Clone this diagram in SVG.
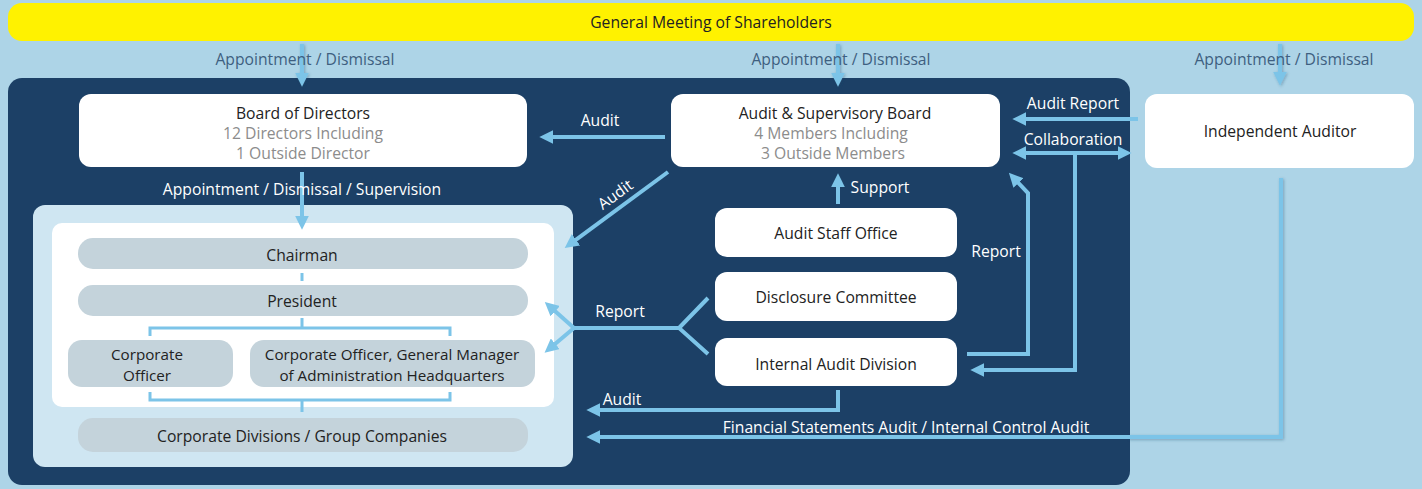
<svg xmlns="http://www.w3.org/2000/svg" width="1422" height="489" viewBox="0 0 1422 489">
  <style>
    text { font-family: "Open Sans", "Noto Sans", "Liberation Sans", sans-serif; font-size: 15.7px; text-anchor: middle; dominant-baseline: central; }
    .dark { fill: #222222; }
    .sub { fill: #8C8C8C; }
    .lbl { fill: #3E5F80; }
    .wlbl { fill: #FFFFFF; }
    .two { font-size: 15.2px; }
    .box { fill: #FFFFFF; }
    .bar { fill: #C4D3DB; }
    .ln { fill: none; stroke: #7CC4E8; stroke-width: 4; }
    .thin { fill: none; stroke: #7CC4E8; stroke-width: 3; }
    .arr { marker-end: url(#head); }
  </style>
  <defs>
    <marker id="head" markerUnits="userSpaceOnUse" markerWidth="14" markerHeight="14" viewBox="0 0 12 12" refX="2" refY="6" orient="auto-start-reverse">
      <path d="M0,0 L12,6 L0,12 z" fill="#7CC4E8"/>
    </marker>
    <filter id="shade" x="-50%" y="-20%" width="200%" height="140%">
      <feDropShadow dx="1" dy="1" stdDeviation="1.5" flood-color="#1C4066" flood-opacity="0.35"/>
    </filter>
  </defs>

  <!-- page -->
  <rect x="0" y="0" width="1422" height="489" fill="#ADD4E7"/>
  <rect x="8" y="78" width="1122" height="407" rx="14" fill="#1C4066"/>

  <!-- shareholders -->
  <g id="shareholders">
    <rect x="8" y="3" width="1406" height="38" rx="14" fill="#FFF200"/>
    <text x="711" y="22" class="dark">General Meeting of Shareholders</text>
  </g>

  <!-- board of directors -->
  <g id="board">
    <rect x="79" y="94" width="448" height="73" rx="12" class="box"/>
    <text x="303" y="113" class="dark">Board of Directors</text>
    <text x="303" y="133" class="sub">12 Directors Including<tspan x="303" dy="20">1 Outside Director</tspan></text>
  </g>

  <!-- audit & supervisory board -->
  <g id="audit-board">
    <rect x="671" y="94" width="329" height="73" rx="12" class="box"/>
    <text x="835" y="113" class="dark">Audit &amp; Supervisory Board</text>
    <text x="831" y="133" class="sub">4 Members Including<tspan x="833" dy="20">3 Outside Members</tspan></text>
  </g>

  <!-- independent auditor -->
  <g id="auditor">
    <rect x="1145" y="94" width="269" height="74" rx="12" class="box"/>
    <text x="1280" y="131" class="dark">Independent Auditor</text>
  </g>

  <!-- executive organisation -->
  <g id="management">
    <rect x="33" y="205" width="540" height="262" rx="12" fill="#CFE6F2"/>
    <rect x="52" y="223" width="502" height="184" rx="10" fill="#FFFFFF"/>
  </g>
  <g id="chairman">
    <rect x="78" y="238" width="450" height="31" rx="15" class="bar"/>
    <text x="302" y="255" class="dark">Chairman</text>
  </g>
  <g id="president">
    <rect x="78" y="285" width="450" height="31" rx="15" class="bar"/>
    <text x="302" y="301" class="dark">President</text>
  </g>
  <g id="corporate-officer">
    <rect x="68" y="340" width="165" height="47" rx="14" class="bar"/>
    <text x="147" y="354" class="dark two">Corporate<tspan x="147" dy="20.8">Officer</tspan></text>
  </g>
  <g id="general-manager">
    <rect x="250" y="340" width="285" height="47" rx="14" class="bar"/>
    <text x="392" y="354" class="dark two">Corporate Officer, General Manager<tspan x="392" dy="20.8">of Administration Headquarters</tspan></text>
  </g>
  <g id="divisions">
    <rect x="78" y="418" width="450" height="34" rx="15" class="bar"/>
    <text x="302" y="436" class="dark">Corporate Divisions / Group Companies</text>
  </g>

  <!-- audit side units -->
  <g id="audit-staff">
    <rect x="715" y="208" width="242" height="49" rx="12" class="box"/>
    <text x="836" y="233" class="dark">Audit Staff Office</text>
  </g>
  <g id="disclosure">
    <rect x="715" y="272" width="242" height="49" rx="12" class="box"/>
    <text x="836" y="297" class="dark">Disclosure Committee</text>
  </g>
  <g id="internal-audit">
    <rect x="715" y="338" width="242" height="48" rx="12" class="box"/>
    <text x="836" y="364" class="dark">Internal Audit Division</text>
  </g>

  <!-- connectors -->
  <g id="connectors">
    <!-- appointment from the general meeting -->
    <g filter="url(#shade)">
      <path class="ln arr" d="M302,44 V75"/>
      <path class="ln arr" d="M838,44 V75"/>
      <path class="ln arr" d="M1280,44 V74"/>
      <path class="ln" d="M1281,178 V437 H1128"/>
    </g>
    <text x="305" y="59" class="lbl">Appointment / Dismissal</text>
    <text x="841" y="59" class="lbl">Appointment / Dismissal</text>
    <text x="1284" y="59" class="lbl">Appointment / Dismissal</text>

    <!-- board to executive -->
    <path class="ln arr" d="M302,172 V218"/>
    <text x="302" y="189" class="wlbl">Appointment / Dismissal / Supervision</text>

    <!-- internal chain -->
    <path class="thin" d="M302,273 V281"/>
    <path class="thin" d="M302,318 V328 M150,336 V328 H450 V336"/>
    <path class="thin" d="M150,392 V400 H450 V392 M302,400 V412"/>

    <!-- audit from audit & supervisory board -->
    <path class="ln arr" d="M665,137 H551"/>
    <text x="600" y="120" class="wlbl">Audit</text>
    <path class="ln arr" d="M668,172 L574.1,241.1"/>
    <text x="615" y="194" class="wlbl" transform="rotate(-36 615 194)">Audit</text>

    <!-- independent auditor links -->
    <path class="ln arr" d="M1138,119 H1024"/>
    <text x="1073" y="103" class="wlbl">Audit Report</text>
    <path class="ln arr" d="M1024,153 H1120" style="marker-start:url(#head)"/>
    <text x="1073" y="139" class="wlbl">Collaboration</text>
    <path class="ln arr" d="M1075,153 V370 H982"/>

    <!-- report from internal audit to audit & supervisory board -->
    <path class="ln arr" d="M967,354 H1028 V193 L1016.9,181.3"/>
    <text x="996" y="251" class="wlbl">Report</text>

    <!-- support -->
    <path class="ln arr" d="M838,204 V185"/>
    <text x="880" y="187" class="wlbl">Support</text>

    <!-- report fork to executive -->
    <path class="ln" d="M708,298 L679,328 L708,354 M679,328 H574"/>
    <path class="ln arr" d="M574,328 L553.5,309.7"/>
    <path class="ln arr" d="M574,328 L553.5,345.3"/>
    <text x="620" y="311" class="wlbl">Report</text>

    <!-- audit from internal audit division -->
    <path class="ln arr" d="M838,390 V410 H598"/>
    <text x="622" y="399" class="wlbl">Audit</text>

    <!-- financial statements audit -->
    <path class="ln arr" d="M1130,437 H598"/>
    <text x="906" y="427" class="wlbl">Financial Statements Audit / Internal Control Audit</text>
  </g>
</svg>
